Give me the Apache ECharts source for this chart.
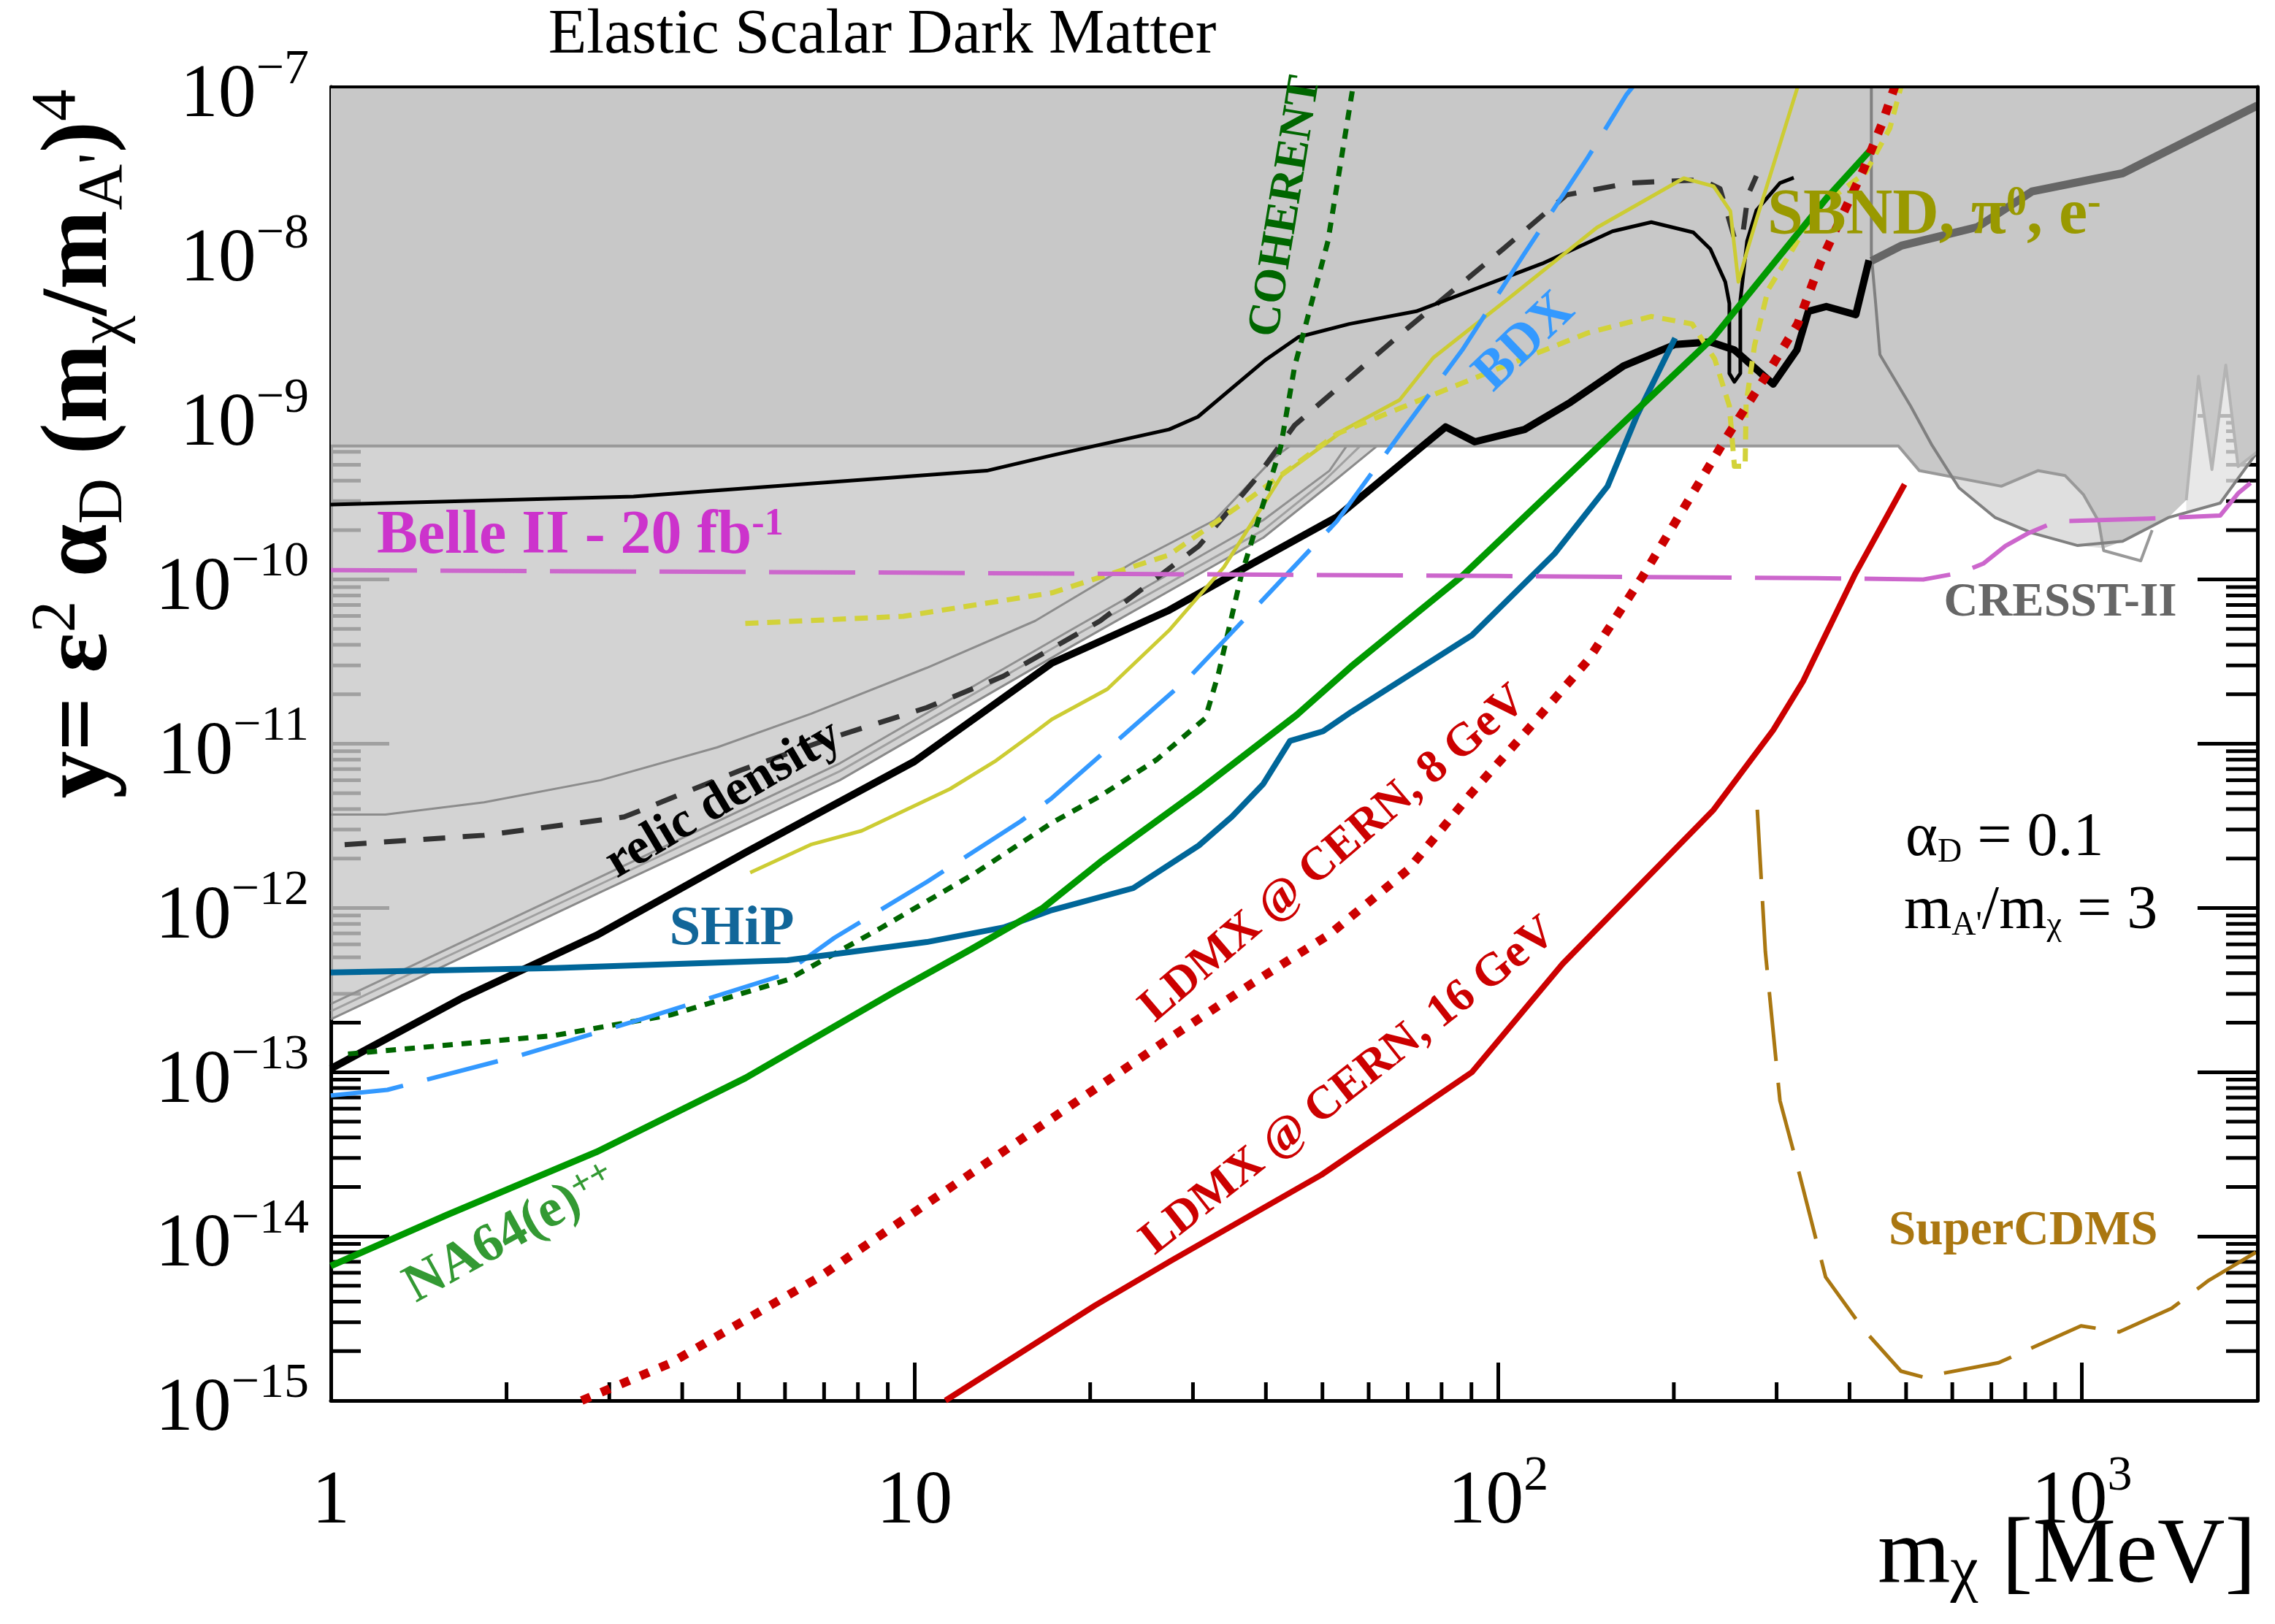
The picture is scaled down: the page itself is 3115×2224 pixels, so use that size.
<!DOCTYPE html>
<html>
<head>
<meta charset="utf-8">
<script src="https://cdn.jsdelivr.net/npm/echarts@6/dist/echarts.min.js"></script>
<style>html,body{margin:0;padding:0;background:#fff}#c{width:3115px;height:2224px}</style>
</head>
<body>
<div id="c"></div>
<script>
// ---------------- DATA (x = m_chi [MeV], y = eps^2 alpha_D (m_chi/m_A')^4) ----------------
const xMajorTicks = [1, 10, 100, 1000];
const yMajorExponents = [-15, -14, -13, -12, -11, -10, -9, -8, -7];
const minorMultipliers = [2, 3, 4, 5, 6, 7, 8, 9];

// shaded exclusion regions
const upperRegion = [[1,1e-7],[2000,1e-7],[2000,6.0e-10],[1853,4.87e-10],[1765,2.02e-9],[1671,4.68e-10],[1585,1.73e-9],[1510,3.04e-10],[1406,2.38e-10],[1175,1.71e-10],[1090,1.55e-10],[1069,2.26e-10],[1006,3.3e-10],[936,4.3e-10],[841,4.6e-10],[728,3.7e-10],[527,4.6e-10],[485,6.5e-10],[1,6.5e-10]];
const cresstInnerRegion = [[590,4.3e-10],[728,3.7e-10],[841,4.6e-10],[936,4.3e-10],[1006,3.3e-10],[1069,2.26e-10],[1090,1.55e-10],[984,1.61e-10],[822,1.92e-10],[711,2.38e-10],[616,3.62e-10]];
const cresstSpikeRegion = [[1510,3.04e-10],[1585,1.73e-9],[1671,4.68e-10],[1765,2.02e-9],[1853,4.87e-10],[2000,6.0e-10],[1726,2.92e-10],[1510,2.55e-10]];
const lowLeftRegion = [[1,6.5e-10],[62,6.5e-10],[52,3.9e-10],[39.6,1.8e-10],[18.3,3.8e-11],[7.45,6.0e-12],[2.9,1.25e-12],[1,2.1e-13]];

// gray boundary lines
const upperEdge = [[1,6.5e-10],[485,6.5e-10],[527,4.6e-10],[728,3.7e-10],[841,4.6e-10],[936,4.3e-10],[1006,3.3e-10],[1069,2.26e-10],[1090,1.5e-10],[1262,1.3e-10],[1320,2.0e-10]];
const cresstBowl = [[436,1e-7],[436,9.5e-9],[443,5e-9],[451,2.34e-9],[509,1.14e-9],[554,6.56e-10],[616,3.62e-10],[711,2.38e-10],[822,1.92e-10],[984,1.61e-10],[1175,1.71e-10],[1406,2.38e-10],[1726,2.92e-10],[2000,6.0e-10]];
const cresstSpikes = [[1510,3.04e-10],[1585,1.73e-9],[1671,4.68e-10],[1765,2.02e-9],[1853,4.87e-10],[2000,6.0e-10]];
const lowLeftUpper = [[1,3.7e-12],[1.24,3.7e-12],[1.83,4.4e-12],[2.9,6.0e-12],[4.59,9.5e-12],[6.64,1.52e-11],[10.5,2.9e-11],[16.1,5.6e-11],[23.7,1.27e-10],[32.7,2.3e-10],[41.3,5.5e-10],[44,6.5e-10]];
const bandA = [[1,2.1e-13],[2.9,1.25e-12],[7.45,6.0e-12],[18.3,3.8e-11],[39.6,1.8e-10],[52,3.9e-10],[62,6.5e-10]];
const bandB = [[1,2.35e-13],[2.9,1.4e-12],[7.45,6.8e-12],[18.3,4.3e-11],[39.6,2.0e-10],[50,3.9e-10],[58,6.5e-10]];
const bandC = [[1,2.6e-13],[2.9,1.55e-12],[7.45,7.6e-12],[18.3,4.8e-11],[39.6,2.3e-10],[51.4,4.6e-10],[55,6.5e-10]];

// experiments / projections
const relicDensity = [[1.056,2.43e-12],[1.83,2.77e-12],[3.18,3.58e-12],[5.04,6.9e-12],[7.3,1.1e-11],[10.5,1.66e-11],[14.2,2.58e-11],[20.8,5.6e-11],[30.7,1.6e-10],[38.2,4.0e-10],[44.8,8.7e-10],[70,3.4e-9],[102,1.03e-8],[131,2.2e-8],[168,2.6e-8],[223,2.72e-8],[240,2.4e-8],[254,1.2e-8],[262,1.2e-8],[268,2.2e-8],[277,2.87e-8]];
const thinBlack = [[1,2.86e-10],[3.3,3.2e-10],[13.3,4.6e-10],[17.2,5.7e-10],[27.3,8.2e-10],[30.6,9.8e-10],[39.9,2.17e-9],[45.5,3.0e-9],[55.6,3.6e-9],[72.4,4.3e-9],[119,8.4e-9],[157,1.32e-8],[183,1.5e-8],[216,1.3e-8],[231,1.03e-8],[245,6.5e-9],[249,4.8e-9],[249,1.8e-9],[254,1.6e-9],[260,1.8e-9],[260,5.0e-9],[267,1.15e-8],[277,1.77e-8],[304,2.6e-8],[321,2.8e-8]];
const thickBlack = [[1,1.05e-13],[1.68,2.83e-13],[2.85,6.8e-13],[5.13,2.17e-12],[10,7.8e-12],[17.2,3.1e-11],[27.3,6.5e-11],[37.9,1.25e-10],[52.9,2.4e-10],[81.3,8.5e-10],[91.2,6.9e-10],[111,8.2e-10],[133,1.2e-9],[164,2.0e-9],[201,2.7e-9],[231,2.8e-9],[254,2.5e-9],[296,1.55e-9],[325,2.5e-9],[340,4.3e-9],[365,4.6e-9],[410,4.1e-9],[432,8.8e-9]];
const thickGray = [[436,8.7e-9],[491,1.08e-8],[662,1.40e-8],[822,2.31e-8],[1175,2.98e-8],[2000,7.7e-8]];
const sbndSolid = [[5.23,1.64e-12],[6.64,2.43e-12],[8.12,2.95e-12],[11.5,5.3e-12],[13.8,7.9e-12],[16.0,1.16e-11],[17.2,1.41e-11],[21.4,2.15e-11],[27.3,4.9e-11],[33.9,1.19e-10],[42.6,4.3e-10],[54.6,8.2e-10],[67.8,1.24e-9],[77.4,2.24e-9],[106,5.4e-9],[147.6,1.39e-8],[208,2.78e-8],[234,2.48e-8],[250,1.75e-8],[258,6.5e-9],[267,1.0e-8],[277,1.55e-8],[326,1e-7]];
const sbndDotted = [[5.13,5.4e-11],[9.57,5.97e-11],[17.2,8.3e-11],[27.3,1.41e-10],[37.9,3.2e-10],[52.9,7.7e-10],[73.5,1.24e-9],[102,1.98e-9],[142.6,3.18e-9],[183,4.0e-9],[215,3.6e-9],[235,2.2e-9],[249,1.14e-9],[254,4.9e-10],[265,4.9e-10],[266,1.17e-9],[275,2.67e-9],[290,5.8e-9],[321,1.05e-8],[349,1.77e-8],[426,3.0e-8],[469,5.6e-8],[490,1e-7]];
const coherent = [[1.07,1.29e-13],[2.41,1.67e-13],[3.82,2.23e-13],[6.06,3.65e-13],[8.73,7.5e-13],[12.6,1.6e-12],[17.2,3.3e-12],[20.8,4.8e-12],[26,8e-12],[31.5,1.43e-11],[33.2,2.7e-11],[36.3,1.06e-10],[39.6,2.9e-10],[42.4,6.4e-10],[44.8,1.98e-9],[51.1,1.15e-8],[56.5,1.04e-7]];
const bdx = [[1,7.2e-14],[1.25,7.8e-14],[2.12,1.27e-13],[3.6,2.23e-13],[5.93,3.88e-13],[7.3,6.6e-13],[10.5,1.44e-12],[15.2,3.37e-12],[17.2,4.67e-12],[29.6,2.55e-11],[39.9,7.8e-11],[52.9,2.26e-10],[68.8,8.2e-10],[86.8,2.5e-9],[111,9.7e-9],[142.6,3.74e-8],[166,9.0e-8],[170,1e-7]];
const ship = [[1,4.05e-13],[2.41,4.3e-13],[6.06,4.8e-13],[10.5,6.2e-13],[14.2,7.6e-13],[17.2,9.7e-13],[23.7,1.32e-12],[30.7,2.4e-12],[35,3.6e-12],[39.6,5.7e-12],[44,1.04e-11],[50.1,1.19e-11],[56,1.56e-11],[90.2,4.58e-11],[125,1.44e-10],[154,3.7e-10],[173,1.0e-9],[201,2.95e-9]];
const na64 = [[1,6.6e-15],[1.58,1.35e-14],[2.85,3.26e-14],[5.13,9.2e-14],[9.2,3.06e-13],[12.5,5.6e-13],[16.6,1.0e-12],[20.8,1.9e-12],[30.7,5.2e-12],[45.2,1.5e-11],[56,2.95e-11],[86.8,1.05e-10],[168,9.8e-10],[234,2.99e-9],[365,2.09e-8],[436,4.19e-8]];
const belle2 = [[1,1.14e-10],[10,1.1e-10],[100,1.05e-10],[350,1.02e-10],[535,1.0e-10],[620,1.1e-10],[678,1.25e-10],[740,1.6e-10],[811,1.92e-10],[904,2.26e-10],[1300,2.35e-10],[1726,2.45e-10],[1853,3.35e-10],[2000,4.2e-10]];
const ldmx8 = [[2.69,1e-15],[3.82,1.69e-15],[6.87,5.65e-15],[12.4,2.37e-14],[27.3,1.6e-13],[38,3.5e-13],[51.4,6.9e-13],[70,1.7e-12],[90,5.0e-12],[112,1.2e-11],[142.6,3.23e-11],[177,1.05e-10],[216,3.4e-10],[246,7.3e-10],[285.6,1.67e-9],[326,3.6e-9],[356,8.4e-9],[422,3.1e-8],[455,6e-8],[478,1e-7]];
const ldmx16 = [[11.3,1e-15],[20.4,3.8e-15],[27.5,7.1e-15],[49.8,2.37e-14],[90.2,1.0e-13],[129,4.57e-13],[234,3.96e-12],[296,1.21e-11],[333,2.4e-11],[409,1.08e-10],[497,3.8e-10]];
const superCDMS = [[278,3.96e-12],[287,5.4e-13],[304,6.7e-14],[323,3.0e-14],[364,5.65e-15],[422,2.73e-15],[490,1.51e-15],[535,1.39e-15],[720,1.7e-15],[997,2.85e-15],[1159,2.62e-15],[1425,3.64e-15],[1651,5.4e-15],[2000,8.1e-15]];

// ---------------- CHART ----------------
const F = 'Liberation Serif';
const YS = 1e15;               // numeric rescaling of y for the log scale (labels undo it)
const X_MIN = 1, X_MAX = 2000, Y_MIN = 1e-15, Y_MAX = 1e-7;
const sc = pts => pts.map(p => [p[0], p[1] * YS]);

const xMinor = [];
xMajorTicks.forEach(d => minorMultipliers.forEach(m => { if (m * d < X_MAX) xMinor.push(m * d); }));
const yMinor = [];
yMajorExponents.slice(0, -1).forEach(e => minorMultipliers.forEach(m => yMinor.push(m * Math.pow(10, e))));

function tickSeries(values, side, len) {
  const data = values.map(v => side === 'bottom' ? [v, Y_MIN * YS] : [side === 'left' ? X_MIN : X_MAX, v * YS]);
  return {
    type: 'custom', coordinateSystem: 'cartesian2d', silent: true, z: 1, clip: false, data,
    renderItem: (params, api) => {
      const p = api.coord([api.value(0), api.value(1)]);
      let x2 = p[0], y2 = p[1];
      if (side === 'bottom') y2 -= len; else if (side === 'left') x2 += len; else x2 -= len;
      return { type: 'line', shape: { x1: p[0], y1: p[1], x2: x2, y2: y2 }, style: { stroke: '#000', lineWidth: 5 } };
    }
  };
}
function polySeries(pts, fill, z) {
  const s = sc(pts);
  return {
    type: 'custom', coordinateSystem: 'cartesian2d', silent: true, z: z, clip: true, data: [s[0]],
    renderItem: (params, api) => ({ type: 'polygon', shape: { points: s.map(p => api.coord(p)) }, style: { fill: fill } })
  };
}
function lineSeries(pts, color, width, dash, z) {
  return {
    type: 'line', data: sc(pts), showSymbol: false, symbol: 'none', silent: true, z: z, clip: true,
    emphasis: { disabled: true },
    lineStyle: { color: color, width: width, type: dash || 'solid', cap: 'butt', join: 'round' }
  };
}

const yLabelRich = {
  b: { fontSize: 104, lineHeight: 140, fontFamily: F, color: '#000' },
  e: { fontSize: 68, lineHeight: 68, fontFamily: F, color: '#000', verticalAlign: 'top' }
};

const series = [
  tickSeries(xMinor, 'bottom', 25),
  tickSeries(yMinor, 'left', 41),
  tickSeries(yMinor, 'right', 43),
  polySeries(upperRegion, '#c8c8c8', 2),
  polySeries(lowLeftRegion, 'rgba(200,200,200,0.8)', 2),
  polySeries(cresstInnerRegion, '#dfdfdf', 2),
  polySeries(cresstSpikeRegion, 'rgba(226,226,226,0.8)', 2),
  lineSeries(lowLeftUpper, '#8c8c8c', 3, null, 3),
  lineSeries(bandA, '#8a8a8a', 3, null, 3),
  lineSeries(bandB, '#a0a0a0', 3, null, 3),
  lineSeries(bandC, '#909090', 3, null, 3),
  lineSeries(upperEdge, '#999999', 4, null, 3),
  lineSeries(cresstBowl, '#808080', 4, null, 3),
  lineSeries(cresstSpikes, '#b4b4b4', 4, null, 3),
  lineSeries(relicDensity, '#333333', 7, [30, 24], 4),
  lineSeries(thinBlack, '#000000', 5, null, 4),
  lineSeries(thickBlack, '#000000', 10, null, 4),
  lineSeries(thickGray, '#666666', 11, null, 4),
  lineSeries(sbndSolid, '#cccc33', 5, null, 4),
  lineSeries(sbndDotted, '#d2d23a', 7, [18, 12], 4),
  lineSeries(coherent, '#006600', 7, [14, 12], 4),
  lineSeries(bdx, '#3399ff', 6, [100, 34], 4),
  lineSeries(ship, '#006699', 8, null, 4),
  lineSeries(na64, '#009900', 9, null, 4),
  lineSeries(belle2, '#cc66cc', 6, [118, 32], 4),
  lineSeries(ldmx8, '#cc0000', 12, [13, 16], 4),
  lineSeries(ldmx16, '#cc0000', 8, null, 4),
  lineSeries(superCDMS, '#aa7711', 5, [95, 30], 4)
];

function txt(x, y, text, o) {
  return {
    type: 'text', x: x, y: y, rotation: (o.rot || 0) * Math.PI / 180, z: 100, silent: true,
    style: {
      text: text, rich: o.rich, fill: o.fill || '#000', fontSize: o.size, fontFamily: F,
      fontWeight: o.weight || 'normal', textAlign: o.align || 'center', textVerticalAlign: 'middle'
    }
  };
}
const R = (size, weight, extra) => Object.assign({ fontSize: size, fontFamily: F, fontWeight: weight || 'normal', lineHeight: size }, extra || {});

const graphics = [
  txt(1208, 49, 'Elastic Scalar Dark Matter', { size: 86 }),
  txt(3089, 2132, '{b|m}{d|\u03c7}{b| [MeV]}', { align: 'right', size: 128,
    rich: { b: R(128), d: R(86, 'normal', { lineHeight: 30, verticalAlign: 'bottom' }) } }),
  txt(111, 608, "{b|y= \u03b5}{p|2}{b| \u03b1}{s|D}{b| (m}{s|\u03c7}{b|/m}{s|A'}{b|)}{p|4}", { rot: 90, size: 130,
    rich: { b: R(130, 'bold', { lineHeight: 151 }), p: R(87, 'normal', { lineHeight: 87, verticalAlign: 'top' }),
            s: R(87, 'normal', { lineHeight: 41, verticalAlign: 'bottom' }) } }),
  txt(516, 735, '{b|Belle II - 20 fb}{s|-1}', { align: 'left', fill: '#cc33cc', size: 84,
    rich: { b: R(84, 'bold'), s: R(52, 'bold', { lineHeight: 28, verticalAlign: 'top' }) } }),
  txt(2420, 296, '{b|SBND, \u03c0}{s|0}{b|, e}{s|-}', { align: 'left', fill: '#999900', size: 88,
    rich: { b: R(88, 'bold'), s: R(56, 'bold', { lineHeight: 40, verticalAlign: 'top' }) } }),
  txt(2821, 826, 'CRESST-II', { fill: '#666666', size: 65, weight: 'bold' }),
  txt(2586, 1687, 'SuperCDMS', { align: 'left', fill: '#aa7711', size: 67, weight: 'bold' }),
  txt(1002, 1273, 'SHiP', { fill: '#116699', size: 77, weight: 'bold' }),
  txt(991, 1095, 'relic density', { rot: 30.7, size: 70, weight: 'bold' }),
  txt(1761, 283, 'COHERENT', { rot: 80.8, fill: '#006600', size: 63, weight: 'bold' }),
  txt(2088, 469, 'BDX', { rot: 43.8, fill: '#3399ff', size: 75, weight: 'bold' }),
  txt(700, 1690, '{b|NA64(e)}{s|++}', { rot: 29, fill: '#339933', size: 74,
    rich: { b: R(74, 'bold'), s: R(50, 'bold', { lineHeight: 24, verticalAlign: 'top' }) } }),
  txt(1826, 1170, 'LDMX @ CERN, 8 GeV', { rot: 40.5, fill: '#cc0000', size: 64, weight: 'bold' }),
  txt(1847, 1488, 'LDMX @ CERN, 16 GeV', { rot: 38.3, fill: '#cc0000', size: 64, weight: 'bold' }),
  txt(2609, 1149, '{b|\u03b1}{d|D}{b| = 0.1}', { align: 'left', size: 84,
    rich: { b: R(84), d: R(46, 'normal', { lineHeight: 13, verticalAlign: 'bottom' }) } }),
  txt(2607, 1249, "{b|m}{d|A'}{b|/m}{d|\u03c7}{b| = 3}", { align: 'left', size: 84,
    rich: { b: R(84), d: R(46, 'normal', { lineHeight: 13, verticalAlign: 'bottom' }) } })
];

const isPow = v => Math.abs(Math.log10(v) - Math.round(Math.log10(v))) < 1e-6;
const option = {
  animation: false,
  backgroundColor: '#ffffff',
  textStyle: { fontFamily: F },
  grid: { left: 453, top: 119, width: 2638, height: 1799, containLabel: false, outerBoundsMode: 'none', show: false },
  xAxis: [
    { type: 'log', logBase: 10, min: X_MIN, max: X_MAX, position: 'bottom', z: 0,
      axisLine: { show: true, onZero: false, lineStyle: { color: '#000', width: 5 } },
      axisTick: { show: true, inside: true, length: 52, lineStyle: { color: '#000', width: 5 } },
      splitLine: { show: false }, minorTick: { show: false },
      axisLabel: { show: true, margin: 70, showMinLabel: true, showMaxLabel: false, rich: yLabelRich,
        formatter: v => {
          if (!isPow(v)) return '';
          const k = Math.round(Math.log10(v));
          if (xMajorTicks.indexOf(Math.pow(10, k)) < 0) return '';
          return k === 0 ? '{b|1}' : k === 1 ? '{b|10}' : '{b|10}{e|' + k + '}';
        } } },
    { type: 'log', logBase: 10, min: X_MIN, max: X_MAX, position: 'top', z: 10,
      axisLine: { show: true, onZero: false, lineStyle: { color: '#000', width: 4 } },
      axisTick: { show: false }, axisLabel: { show: false }, splitLine: { show: false } }
  ],
  yAxis: [
    { type: 'log', logBase: 10, min: Y_MIN * YS, max: Y_MAX * YS, position: 'left', z: 0,
      axisLine: { show: true, onZero: false, lineStyle: { color: '#000', width: 5 } },
      axisTick: { show: true, inside: true, length: 80, lineStyle: { color: '#000', width: 5 } },
      splitLine: { show: false },
      axisLabel: { show: true, margin: 30, padding: [26, 0, 0, 0], showMinLabel: true, showMaxLabel: true, rich: yLabelRich,
        formatter: v => {
          if (!isPow(v)) return '';
          const e = Math.round(Math.log10(v)) - 15;
          if (yMajorExponents.indexOf(e) < 0) return '';
          return '{b|10}{e|' + (e < 0 ? '\u2212' : '') + Math.abs(e) + '}';
        } } },
    { type: 'log', logBase: 10, min: Y_MIN * YS, max: Y_MAX * YS, position: 'right', z: 0,
      axisLine: { show: false }, axisLabel: { show: false }, splitLine: { show: false },
      axisTick: { show: true, inside: true, length: 82, lineStyle: { color: '#000', width: 5 } } },
    { type: 'log', logBase: 10, min: Y_MIN * YS, max: Y_MAX * YS, position: 'right', z: 10,
      axisLine: { show: true, onZero: false, lineStyle: { color: '#000', width: 5 } },
      axisTick: { show: false }, axisLabel: { show: false }, splitLine: { show: false } }
  ],
  series: series,
  graphic: { elements: graphics }
};

const chart = echarts.init(document.getElementById('c'), null, { renderer: 'canvas', width: 3115, height: 2224 });
chart.setOption(option);
</script>
</body>
</html>
